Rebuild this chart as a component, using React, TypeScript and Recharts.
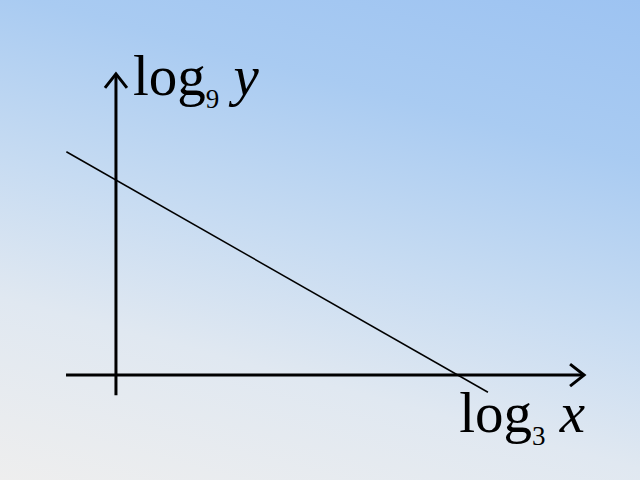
import { LineChart, Line, XAxis, YAxis, ReferenceLine } from "recharts"

// data units: log3 x along the horizontal, log9 y along the vertical
const lineX = [-0.29, 2.175]
const lineY = [1.145, -0.088]
const xAxisExtent = [-0.292, 2.737]
const yAxisExtent = [-0.103, 1.544]
const xDomain = [-0.678, 3.064]
const yDomain = [-0.538, 1.923]
const xLabel = { base: "log", sub: "3", variable: "x" }
const yLabel = { base: "log", sub: "9", variable: "y" }

const data = lineX.map((x, i) => ({ x, y: lineY[i] }))

const FONT = "'Liberation Serif', 'DejaVu Serif', serif"

function MathLabel({ x, y, anchor, label }: any) {
    return (
        <text x={x} y={y} textAnchor={anchor} fontFamily={FONT} fontSize={57} fill="#000">
            <tspan>{label.base}</tspan>
            <tspan fontSize={27} dy={13}>{label.sub}</tspan>
            <tspan dy={-13}>{"\u00a0"}</tspan>
            <tspan fontStyle="italic">{label.variable}</tspan>
        </text>
    )
}

function ArrowAxis(props: any) {
    const { x1, y1, x2, y2, kind } = props
    const dx = x2 - x1
    const dy = y2 - y1
    const len = Math.sqrt(dx * dx + dy * dy) || 1
    const ux = dx / len
    const uy = dy / len
    const back = 14
    const half = 11
    const bx = x2 - ux * back
    const by = y2 - uy * back
    const pts = `${bx - uy * half},${by + ux * half} ${x2},${y2} ${bx + uy * half},${by - ux * half}`
    return (
        <g>
            <line x1={x1} y1={y1} x2={x2} y2={y2} stroke="#000" strokeWidth={3} />
            <polyline points={pts} fill="none" stroke="#000" strokeWidth={3} />
            {kind === "y" ? (
                <MathLabel x={x2 + 17} y={y2 + 21} anchor="start" label={yLabel} />
            ) : (
                <MathLabel x={x2 + 1} y={y2 + 57} anchor="end" label={xLabel} />
            )}
        </g>
    )
}

export default function App() {
    return (
        <div
            style={{
                position: "fixed",
                top: 0,
                left: 0,
                width: 640,
                height: 480,
                background:
                    "linear-gradient(15deg, #eeeeee 0%, #e0e8f1 28%, #c6dbf2 50%, #a9cbf2 75%, #9dc3f2 100%)",
            }}
        >
            <LineChart width={640} height={480} data={data} margin={{ top: 0, right: 0, bottom: 0, left: 0 }}>
                <XAxis type="number" dataKey="x" domain={xDomain} allowDataOverflow hide />
                <YAxis type="number" domain={yDomain} allowDataOverflow hide />
                <ReferenceLine
                    segment={[
                        { x: xAxisExtent[0], y: 0 },
                        { x: xAxisExtent[1], y: 0 },
                    ]}
                    shape={(p: any) => <ArrowAxis {...p} kind="x" />}
                />
                <ReferenceLine
                    segment={[
                        { x: 0, y: yAxisExtent[0] },
                        { x: 0, y: yAxisExtent[1] },
                    ]}
                    shape={(p: any) => <ArrowAxis {...p} kind="y" />}
                />
                <Line
                    type="linear"
                    dataKey="y"
                    stroke="#000"
                    strokeWidth={1.5}
                    dot={false}
                    activeDot={false}
                    isAnimationActive={false}
                />
            </LineChart>
        </div>
    )
}
